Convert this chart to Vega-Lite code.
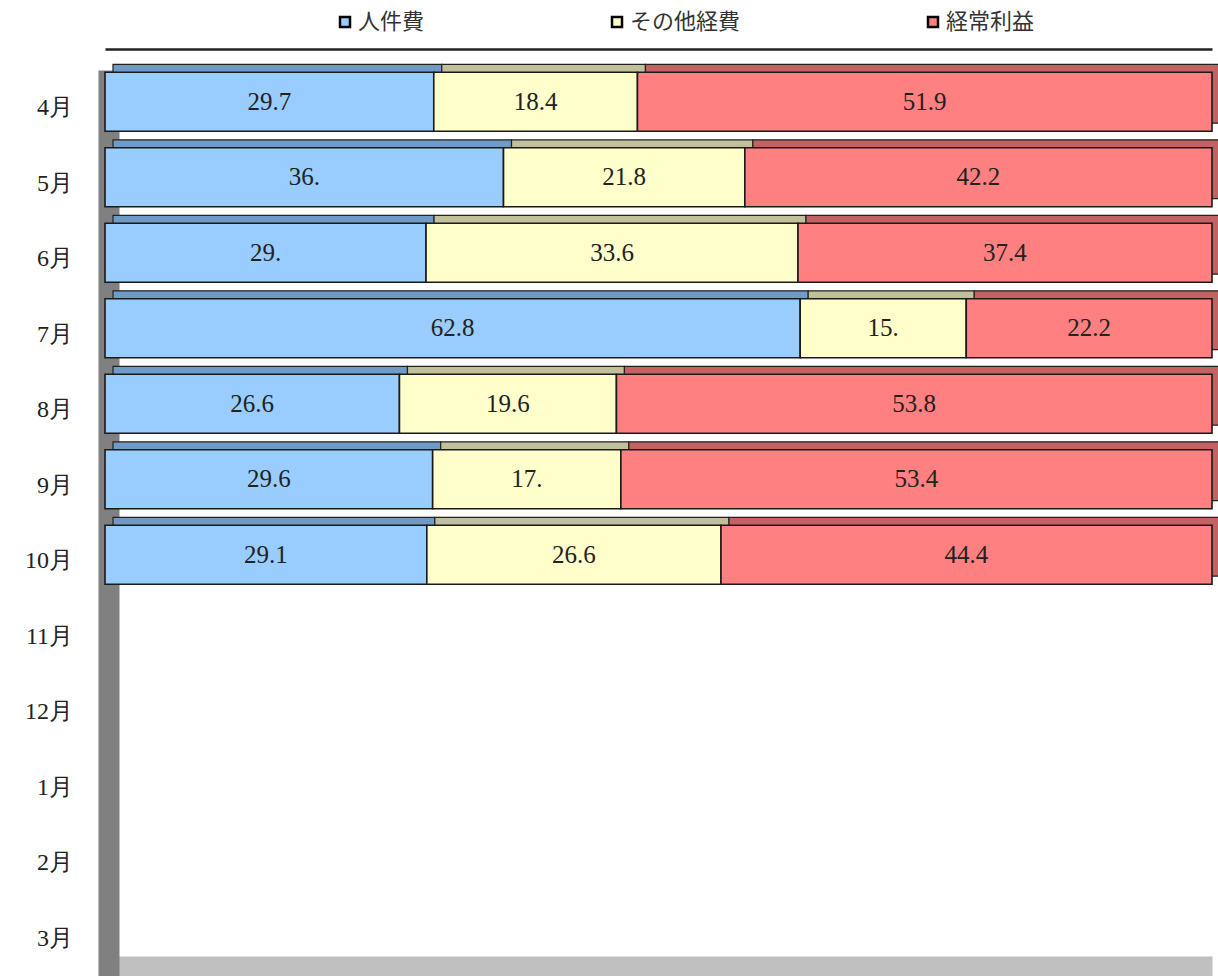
{
  "$schema": "https://vega.github.io/schema/vega-lite/v6.json",
  "autosize": {"type": "none"},
  "width": 1107,
  "height": 906,
  "padding": {"left": 105, "top": 70, "right": 6, "bottom": 0},
  "background": "white",
  "view": {"stroke": null},
  "data": {
    "values": [
      {"month": "4月", "cat": "人件費", "order": 1, "value": 29.7, "label": "29.7"},
      {"month": "4月", "cat": "その他経費", "order": 2, "value": 18.4, "label": "18.4"},
      {"month": "4月", "cat": "経常利益", "order": 3, "value": 51.9, "label": "51.9"},
      {"month": "5月", "cat": "人件費", "order": 1, "value": 36.0, "label": "36."},
      {"month": "5月", "cat": "その他経費", "order": 2, "value": 21.8, "label": "21.8"},
      {"month": "5月", "cat": "経常利益", "order": 3, "value": 42.2, "label": "42.2"},
      {"month": "6月", "cat": "人件費", "order": 1, "value": 29.0, "label": "29."},
      {"month": "6月", "cat": "その他経費", "order": 2, "value": 33.6, "label": "33.6"},
      {"month": "6月", "cat": "経常利益", "order": 3, "value": 37.4, "label": "37.4"},
      {"month": "7月", "cat": "人件費", "order": 1, "value": 62.8, "label": "62.8"},
      {"month": "7月", "cat": "その他経費", "order": 2, "value": 15.0, "label": "15."},
      {"month": "7月", "cat": "経常利益", "order": 3, "value": 22.2, "label": "22.2"},
      {"month": "8月", "cat": "人件費", "order": 1, "value": 26.6, "label": "26.6"},
      {"month": "8月", "cat": "その他経費", "order": 2, "value": 19.6, "label": "19.6"},
      {"month": "8月", "cat": "経常利益", "order": 3, "value": 53.8, "label": "53.8"},
      {"month": "9月", "cat": "人件費", "order": 1, "value": 29.6, "label": "29.6"},
      {"month": "9月", "cat": "その他経費", "order": 2, "value": 17.0, "label": "17."},
      {"month": "9月", "cat": "経常利益", "order": 3, "value": 53.4, "label": "53.4"},
      {"month": "10月", "cat": "人件費", "order": 1, "value": 29.1, "label": "29.1"},
      {"month": "10月", "cat": "その他経費", "order": 2, "value": 26.6, "label": "26.6"},
      {"month": "10月", "cat": "経常利益", "order": 3, "value": 44.4, "label": "44.4"}
    ]
  },
  "transform": [
    {"stack": "value", "groupby": ["month"], "sort": [{"field": "order", "order": "ascending"}], "offset": "normalize", "as": ["x0", "x1"]}
  ],
  "encoding": {
    "y": {
      "field": "month",
      "type": "nominal",
      "scale": {
        "domain": ["4月", "5月", "6月", "7月", "8月", "9月", "10月", "11月", "12月", "1月", "2月", "3月"],
        "paddingInner": 0.22,
        "paddingOuter": 0.11
      },
      "axis": {
        "title": null,
        "orient": "left",
        "offset": -3.5,
        "domainColor": "#808080",
        "domainWidth": 21,
        "tickBand": "extent",
        "ticks": true,
        "tickColor": "#000000",
        "tickWidth": 2,
        "tickSize": 7,
        "labelPadding": 29,
        "labelFont": "Liberation Serif",
        "labelFontSize": 24,
        "labelColor": "#222222",
        "labelAlign": "right"
      }
    }
  },
  "layer": [
    {
      "mark": {"type": "bar", "stroke": "#222222", "strokeWidth": 1.2, "xOffset": 8, "x2Offset": 8, "yOffset": -14, "y2Offset": -14},
      "encoding": {
        "x": {
          "field": "x0",
          "type": "quantitative",
          "scale": {"domain": [0, 1], "nice": false, "zero": true},
          "axis": {"orient": "bottom", "offset": -10, "domainColor": "#c0c0c0", "domainWidth": 20, "labels": false, "ticks": false, "grid": false, "title": null}
        },
        "x2": {"field": "x1"},
        "color": {
          "field": "cat",
          "type": "nominal",
          "scale": {"domain": ["人件費", "その他経費", "経常利益"], "range": ["#6f9bc8", "#c0c09a", "#c26262"]},
          "legend": null
        }
      }
    },
    {
      "mark": {"type": "bar", "stroke": "#1a1a1a", "strokeWidth": 1.6, "yOffset": -6, "y2Offset": -6},
      "encoding": {
        "x": {
          "field": "x0",
          "type": "quantitative",
          "axis": {"orient": "top", "offset": 21, "domainColor": "#222222", "domainWidth": 2.5, "labels": false, "ticks": false, "grid": false, "title": null}
        },
        "x2": {"field": "x1"},
        "color": {
          "field": "cat",
          "type": "nominal",
          "scale": {"domain": ["人件費", "その他経費", "経常利益"], "range": ["#99ccff", "#ffffcc", "#ff8080"]},
          "legend": {
            "title": null,
            "orient": "none",
            "direction": "horizontal",
            "legendX": 229,
            "legendY": -59,
            "columnPadding": 181,
            "symbolType": "square",
            "symbolSize": 100,
            "symbolStrokeColor": "#000000",
            "symbolStrokeWidth": 2.5,
            "labelFont": "Noto Sans CJK JP",
            "labelFontSize": 22,
            "labelColor": "#333333",
            "labelOffset": 2
          }
        }
      }
    },
    {
      "transform": [{"calculate": "(datum.x0 + datum.x1) / 2", "as": "xmid"}],
      "mark": {"type": "text", "font": "Liberation Serif", "fontSize": 25, "color": "#222222", "align": "center", "baseline": "middle", "yOffset": -6},
      "encoding": {
        "x": {"field": "xmid", "type": "quantitative", "axis": null},
        "text": {"field": "label", "type": "nominal"}
      }
    }
  ],
  "resolve": {"scale": {"color": "independent"}, "axis": {"x": "independent"}}
}
